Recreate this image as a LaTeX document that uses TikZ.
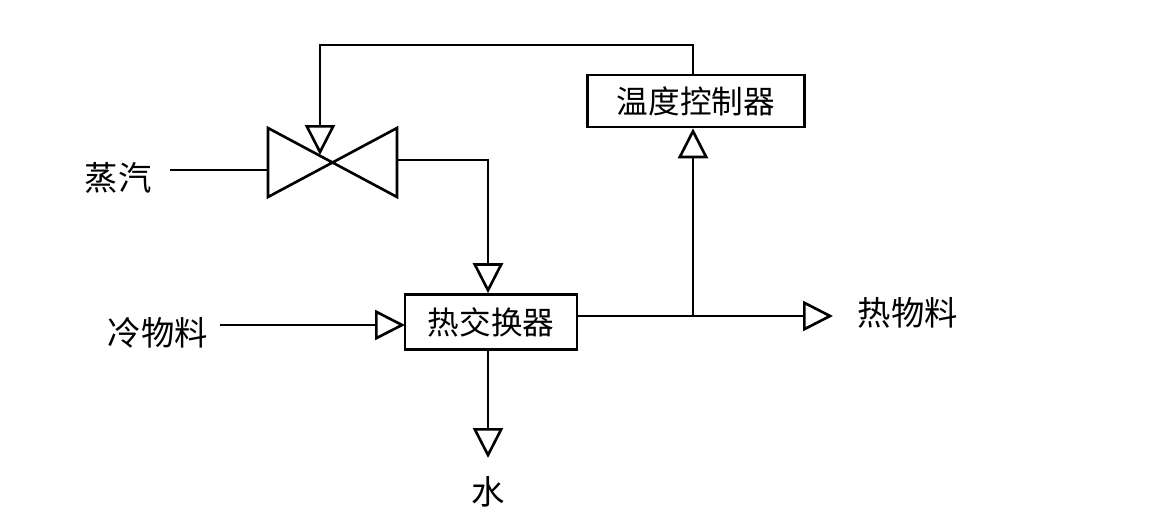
\documentclass[tikz,border=0pt]{standalone}
\usepackage{fontspec}
\setmainfont{Noto Sans CJK SC}
\usetikzlibrary{arrows.meta}
\tikzset{
	flow/.style={line width=1.5pt, -{Triangle[open, length=0.6cm, width=0.6cm, line width=1.5pt]}},
	pipe/.style={line width=1.5pt},
	unit/.style={draw, line width=1.5pt, font=\fontsize{18}{18}\selectfont},
	lbl/.style={font=\fontsize{19}{19}\selectfont}
}
\begin{document}
\begin{tikzpicture}[x=0.02cm, y=-0.02cm]
	\useasboundingbox (0,0) rectangle (1157,527);

	% units
	\node[unit, minimum width=4.34cm, minimum height=1.04cm] (tc) at (696,101) {温度控制器};
	\node[unit, minimum width=3.44cm, minimum height=1.1cm] (hx) at (491,322) {热交换器};
	\coordinate (valve) at (333,162);
	\draw[pipe] (268,128) -- (268,197) -- (397,128) -- (397,197) -- cycle;

	% labels
	\node[lbl] (steam) at (118,178) {蒸汽};
	\node[lbl] (cold) at (158,333) {冷物料};
	\node[lbl] (hot) at (908,313) {热物料};
	\node[lbl] (water) at (488,492) {水};

	% helper points
	\coordinate (vin) at (268,170);
	\coordinate (vout) at (397,160);
	\coordinate (tap) at (693,316);
	\coordinate (tctop) at (693,45);
	\coordinate (hxin) at (405,325);

	% lines
	\draw[pipe] (170,170) -- (vin);
	\draw[flow] (tctop |- tc.north) -- (tctop) -- (320,45) -- (320,155);
	\draw[flow] (vout) -| (hx.north -| 488,0);
	\draw[flow] (220,325) -- (hxin);
	\draw[pipe] (hx.east |- tap) -- (tap);
	\draw[flow] (tap) -- (833,316);
	\draw[flow] (tap) -- (tc.south -| tap);
	\draw[flow] (hx.south -| 488,0) -- (488,458);
\end{tikzpicture}
\end{document}
